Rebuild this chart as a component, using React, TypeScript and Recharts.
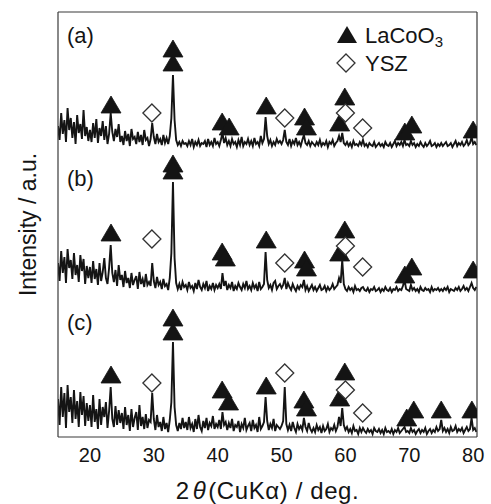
import React from 'react';
import { ComposedChart, Line, Scatter, XAxis, YAxis, ReferenceDot, Legend } from 'recharts';

// sampling grid of the diffraction patterns (2θ, degrees)
const ANGLE_START = 15;
const ANGLE_STEP = 0.25;
const X_TICKS = [20, 30, 40, 50, 60, 70, 80];

// intensity (a.u.) of each pattern, one value per grid step, 15.00° … 80.50°
const PATTERN_A = [
  22, 8, 35, 14, 28, 6, 40, 18, 30, 10, 26, 4, 33, 15, 24, 9, 38, 12, 21, 7,
  18, 6, 25, 10, 29, 5, 20, 12, 27, 8, 22, 4, 14, 35, 16, 7, 19, 11, 24, 6,
  12, 3, 17, 7, 14, 2, 19, 9, 11, 4, 16, 6, 13, 3, 18, 8, 10, 2, 9, 25,
  11, 4, 14, 6, 9, 3, 13, 5, 10, 4, 12, 30, 73, 28, 8, 3, 6, 2, 7, 4,
  5, 2, 7, 3, 9, 1, 6, 3, 8, 2, 5, 4, 7, 1, 9, 3, 6, 2, 10, 4,
  6, 2, 8, 15, 5, 10, 3, 7, 2, 9, 4, 6, 1, 8, 3, 11, 2, 6, 4, 9,
  3, 7, 2, 10, 4, 6, 2, 12, 5, 9, 31, 12, 4, 8, 2, 6, 3, 9, 5, 7,
  4, 8, 18, 6, 3, 9, 2, 7, 4, 10, 3, 6, 2, 8, 13, 5, 3, 7, 2, 6,
  4, 2, 6, 3, 8, 2, 5, 3, 7, 1, 6, 4, 8, 2, 5, 7, 12, 6, 15, 5,
  3, 6, 2, 5, 1, 7, 3, 4, 2, 6, 3, 8, 2, 4, 1, 5, 3, 2, 6, 1,
  3, 5, 2, 4, 1, 6, 3, 2, 5, 1, 4, 7, 2, 5, 3, 6, 2, 8, 3, 4,
  2, 7, 3, 5, 1, 4, 2, 6, 3, 1, 5, 2, 4, 7, 2, 3, 5, 1, 4, 2,
  5, 2, 4, 6, 2, 3, 5, 1, 4, 7, 2, 5, 3, 6, 2, 4, 8, 3, 5, 11,
  4, 6, 3,
];

const PATTERN_B = [
  30, 12, 42, 20, 36, 10, 44, 25, 33, 14, 40, 18, 28, 11, 38, 22, 34, 9, 27, 15,
  26, 10, 32, 14, 24, 8, 30, 12, 21, 35, 15, 9, 25, 48, 20, 11, 23, 7, 28, 13,
  18, 6, 22, 10, 15, 5, 20, 8, 13, 17, 4, 21, 9, 14, 6, 19, 8, 11, 7, 30,
  12, 5, 16, 8, 11, 4, 14, 7, 9, 3, 15, 40, 111, 35, 10, 4, 9, 3, 11, 6,
  8, 3, 11, 5, 7, 2, 10, 4, 13, 6, 3, 9, 5, 12, 2, 7, 4, 10, 3, 8,
  5, 9, 4, 20, 7, 12, 3, 8, 5, 11, 2, 7, 4, 10, 6, 3, 9, 5, 12, 4,
  7, 3, 10, 5, 8, 2, 11, 4, 6, 9, 41, 13, 5, 8, 3, 10, 12, 4, 7, 9,
  5, 8, 15, 4, 10, 6, 3, 9, 5, 2, 7, 4, 8, 6, 13, 3, 7, 2, 5, 8,
  3, 6, 2, 5, 8, 3, 4, 7, 2, 6, 3, 5, 9, 4, 6, 8, 15, 10, 33, 9,
  4, 2, 6, 3, 5, 1, 7, 3, 4, 2, 5, 6, 3, 2, 5, 1, 4, 3, 6, 2,
  3, 5, 1, 4, 2, 6, 3, 2, 5, 1, 4, 3, 6, 2, 4, 3, 7, 13, 4, 3,
  2, 8, 3, 5, 2, 4, 1, 6, 3, 2, 5, 3, 4, 1, 6, 2, 4, 3, 5, 2,
  4, 2, 5, 3, 6, 1, 4, 3, 2, 5, 3, 6, 2, 4, 7, 3, 5, 2, 6, 10,
  5, 3, 6,
];

const PATTERN_C = [
  38, 12, 50, 20, 44, 9, 52, 25, 40, 14, 47, 18, 36, 10, 45, 22, 41, 11, 34, 16,
  32, 10, 42, 15, 28, 8, 38, 12, 30, 20, 35, 9, 26, 50, 18, 10, 31, 12, 27, 14,
  24, 8, 30, 12, 22, 6, 28, 10, 19, 25, 7, 32, 11, 20, 8, 23, 9, 17, 15, 44,
  18, 7, 22, 10, 15, 6, 20, 8, 14, 5, 17, 35, 95, 30, 12, 6, 14, 8, 19, 9,
  15, 7, 20, 9, 13, 5, 18, 8, 22, 10, 6, 16, 9, 19, 7, 14, 11, 21, 8, 13,
  10, 17, 8, 25, 12, 15, 7, 14, 9, 18, 6, 12, 10, 16, 5, 13, 9, 19, 7, 11,
  14, 6, 17, 9, 12, 5, 20, 8, 11, 15, 40, 16, 7, 13, 9, 18, 6, 12, 10, 8,
  11, 16, 50, 13, 7, 12, 6, 15, 9, 5, 13, 8, 11, 7, 19, 10, 6, 14, 8, 5,
  9, 5, 12, 7, 10, 4, 11, 6, 8, 13, 5, 9, 7, 12, 6, 10, 20, 11, 29, 12,
  7, 10, 5, 8, 4, 11, 6, 7, 3, 9, 5, 9, 6, 4, 8, 5, 7, 3, 9, 6,
  5, 8, 4, 7, 3, 9, 5, 6, 4, 8, 3, 7, 5, 9, 4, 6, 8, 10, 5, 6,
  4, 9, 5, 7, 3, 6, 8, 4, 7, 5, 9, 3, 6, 8, 4, 7, 5, 10, 6, 8,
  17, 6, 9, 5, 8, 4, 10, 6, 7, 11, 5, 8, 6, 9, 4, 7, 10, 6, 8, 19,
  7, 9, 5,
];

// vertical stacking offset of each pattern
const OFFSET_A = 289;
const OFFSET_B = 144;
const OFFSET_C = 0;

// peak markers [2θ, height above the pattern's baseline]
const LACOO3_A = [[23.3, 43], [33.0, 99], [33.0, 85], [40.7, 26], [41.8, 21], [47.6, 42], [53.6, 31], [53.9, 21], [59.9, 51], [59.1, 25], [69.3, 16], [70.4, 23], [80.0, 18]];
const YSZ_A = [[29.7, 35], [50.5, 30], [60.0, 35], [62.7, 20]];
const LACOO3_B = [[23.3, 60], [33.0, 129], [33.0, 122], [40.7, 41], [41.2, 35], [47.6, 53], [53.6, 33], [53.9, 25], [59.9, 63], [59.1, 40], [69.3, 18], [70.4, 26], [80.0, 23]];
const YSZ_B = [[29.7, 54], [50.5, 30], [60.0, 47], [62.7, 26]];
const LACOO3_C = [[23.3, 62], [33.0, 119], [33.0, 105], [40.7, 47], [41.7, 35], [47.6, 51], [53.5, 37], [53.9, 29], [59.9, 65], [59.1, 39], [69.6, 19], [70.7, 27], [75.0, 27], [79.8, 27]];
const YSZ_C = [[29.7, 54], [50.5, 64], [60.0, 47], [62.7, 24]];

// panel labels [text, 2θ, y]
const PANEL_LABELS = [['(a)', 16.4, 402], ['(b)', 16.4, 259], ['(c)', 16.4, 115]];

const SERIES_NAMES = ['LaCoO', 'YSZ'];

const FONT = '"Liberation Sans", Arial, Helvetica, sans-serif';
const INK = '#141414';
const FRAME = '#3a3a3a';

const data = PATTERN_A.map((v, i) => ({
  angle: ANGLE_START + i * ANGLE_STEP,
  a: v + OFFSET_A,
  b: PATTERN_B[i] + OFFSET_B,
  c: PATTERN_C[i] + OFFSET_C,
}));

const toPoints = (list: number[][], offset: number) => list.map(([angle, h]) => ({ angle, y: h + offset }));

const triangleData = [
  ...toPoints(LACOO3_A, OFFSET_A),
  ...toPoints(LACOO3_B, OFFSET_B),
  ...toPoints(LACOO3_C, OFFSET_C),
];
const diamondData = [
  ...toPoints(YSZ_A, OFFSET_A),
  ...toPoints(YSZ_B, OFFSET_B),
  ...toPoints(YSZ_C, OFFSET_C),
];

const trianglePoints = (cx: number, cy: number) =>
  `${cx},${cy - 9} ${cx + 10},${cy + 8} ${cx - 10},${cy + 8}`;
const diamondPoints = (cx: number, cy: number) =>
  `${cx},${cy - 9} ${cx + 9},${cy} ${cx},${cy + 9} ${cx - 9},${cy}`;

const TriangleShape = (props: any) => {
  const { cx, cy } = props;
  if (cx == null || cy == null) return null;
  return <polygon points={trianglePoints(cx, cy)} fill={INK} stroke={INK} strokeWidth={0.8} />;
};

const DiamondShape = (props: any) => {
  const { cx, cy } = props;
  if (cx == null || cy == null) return null;
  return <polygon points={diamondPoints(cx, cy)} fill="#fff" stroke="#333" strokeWidth={1.3} />;
};

const renderLegend = () => (
  <svg width={150} height={62} style={{ display: 'block' }}>
    <polygon points={trianglePoints(17, 17)} fill={INK} />
    <text x={35} y={25} fontSize={22} fill={INK} fontFamily={FONT}>
      {SERIES_NAMES[0]}
      <tspan fontSize={15} dy={4}>3</tspan>
    </text>
    <polygon points={diamondPoints(16, 45)} fill="#fff" stroke="#333" strokeWidth={1.3} />
    <text x={35} y={53} fontSize={22} fill={INK} fontFamily={FONT}>
      {SERIES_NAMES[1]}
    </text>
  </svg>
);

const renderYLabel = (props: any) => {
  const vb = props && props.viewBox ? props.viewBox : { x: 8, y: 12, width: 50, height: 425 };
  const cx = vb.x + 20;
  const cy = vb.y + vb.height / 2;
  return (
    <text
      x={cx}
      y={cy}
      transform={`rotate(-90, ${cx}, ${cy})`}
      textAnchor="middle"
      dominantBaseline="central"
      fontSize={23}
      fill={INK}
      fontFamily={FONT}
    >
      Intensity / a.u.
    </text>
  );
};

const renderXLabel = (props: any) => {
  const vb = props && props.viewBox ? props.viewBox : { x: 58, y: 437, width: 419, height: 67 };
  const cx = vb.x + vb.width / 2;
  const y = vb.y + 62;
  return (
    <text x={cx} y={y} textAnchor="middle" fontSize={24} fill={INK} fontFamily={FONT} letterSpacing={0.6}>
      <tspan>2</tspan>
      <tspan fontStyle="italic" dx={3}>θ</tspan>
      <tspan dx={2}>(CuKα) / deg.</tspan>
    </text>
  );
};

export default function App() {
  return (
    <div style={{ position: 'absolute', left: 0, top: 0, width: 491, height: 504, background: '#fff' }}>
      <ComposedChart
        width={491}
        height={504}
        data={data}
        margin={{ top: 11, right: 13, bottom: 0, left: 8 }}
        style={{ fontFamily: FONT }}
      >
        <XAxis
          dataKey="angle"
          type="number"
          domain={[15, 80.6]}
          ticks={X_TICKS}
          allowDataOverflow
          axisLine={{ stroke: FRAME, strokeWidth: 1.2 }}
          tickLine={false}
          tickSize={0}
          tickMargin={11}
          height={67}
          tick={{ fontSize: 20, fill: INK, fontFamily: FONT }}
          label={renderXLabel}
        />
        <XAxis
          xAxisId="top"
          orientation="top"
          dataKey="angle"
          type="number"
          domain={[15, 80.6]}
          allowDataOverflow
          height={1}
          axisLine={{ stroke: FRAME, strokeWidth: 1.2 }}
          tick={false}
          tickLine={false}
        />
        <YAxis
          dataKey="y"
          type="number"
          domain={[0, 425]}
          allowDataOverflow
          width={50}
          tick={false}
          tickLine={false}
          axisLine={{ stroke: FRAME, strokeWidth: 1.2 }}
          label={renderYLabel}
        />
        <YAxis
          yAxisId="right"
          orientation="right"
          type="number"
          domain={[0, 425]}
          allowDataOverflow
          width={1}
          tick={false}
          tickLine={false}
          axisLine={{ stroke: FRAME, strokeWidth: 1.2 }}
        />
        <Line dataKey="a" type="linear" stroke={INK} strokeWidth={1.9} dot={false} isAnimationActive={false} legendType="none" />
        <Line dataKey="b" type="linear" stroke={INK} strokeWidth={1.9} dot={false} isAnimationActive={false} legendType="none" />
        <Line dataKey="c" type="linear" stroke={INK} strokeWidth={1.9} dot={false} isAnimationActive={false} legendType="none" />
        <Scatter name="LaCoO3" data={triangleData} shape={TriangleShape} isAnimationActive={false} />
        <Scatter name="YSZ" data={diamondData} shape={DiamondShape} isAnimationActive={false} />
        {PANEL_LABELS.map(([text, x, y]) => (
          <ReferenceDot
            key={text as string}
            x={x as number}
            y={y as number}
            r={0}
            fill="none"
            stroke="none"
            ifOverflow="visible"
            label={{ value: text as string, position: 'right', offset: 0, fontSize: 22, fill: INK, fontFamily: FONT }}
          />
        ))}
        <Legend
          layout="vertical"
          align="center"
          verticalAlign="middle"
          content={renderLegend}
          wrapperStyle={{ left: 330, top: 18, width: 150, height: 62, bottom: 'auto', right: 'auto' }}
        />
      </ComposedChart>
    </div>
  );
}
